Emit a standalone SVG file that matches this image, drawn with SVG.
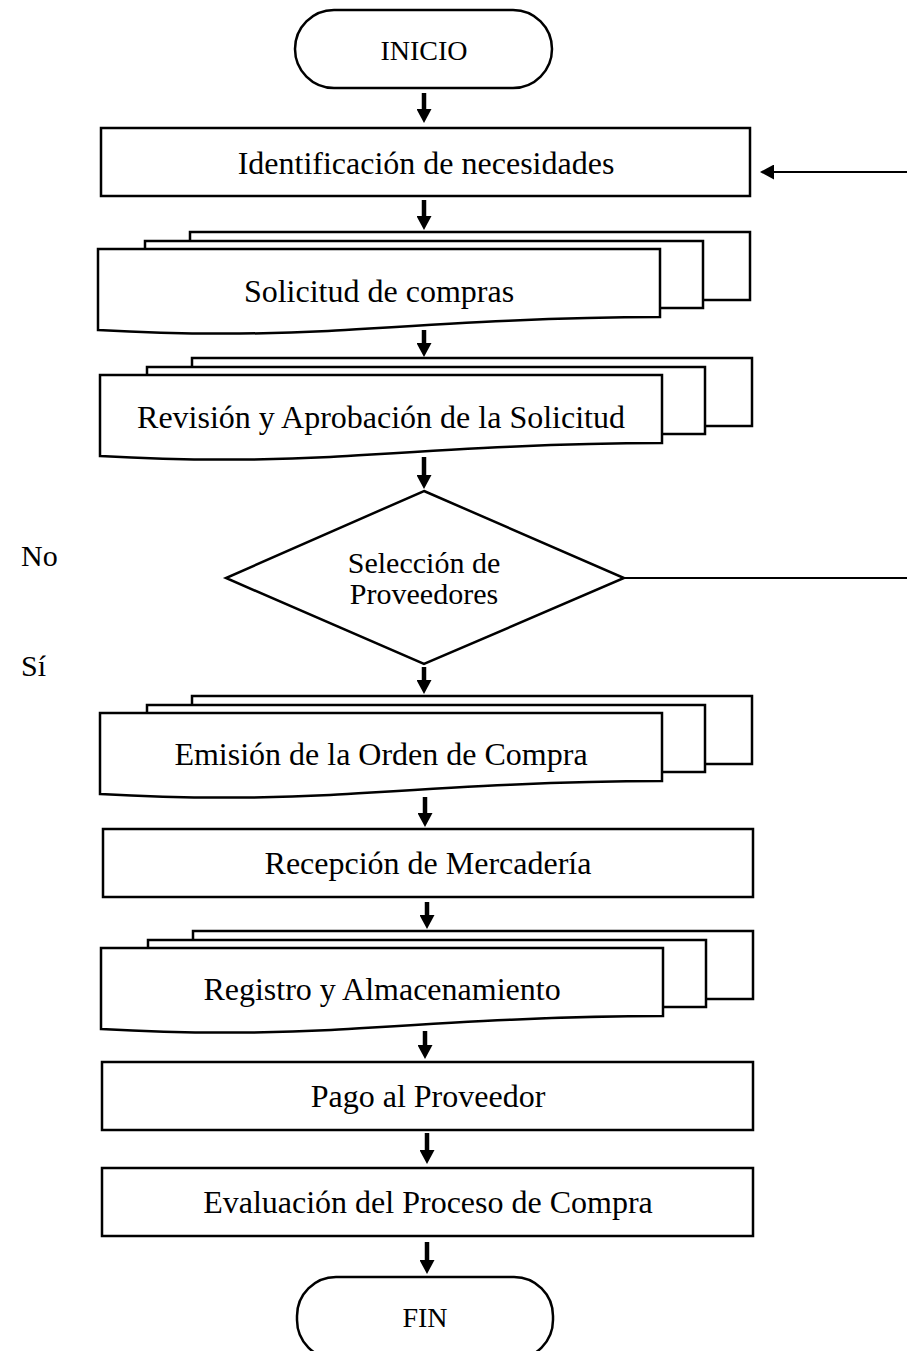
<svg xmlns="http://www.w3.org/2000/svg" xmlns:xlink="http://www.w3.org/1999/xlink" width="907" height="1351" viewBox="0 0 907 1351">
<style>
.shape{fill:#fff;stroke:#000;stroke-width:2.5;stroke-linejoin:miter}
.lbl{font-family:"Liberation Serif","Times New Roman",serif;font-size:32px;fill:#000;text-anchor:middle}
.small{font-size:28px}
.dia{font-size:30px}
.side{font-family:"Liberation Serif","Times New Roman",serif;font-size:30px;fill:#000}
.arr{stroke:#000;stroke-width:4.5;fill:none;marker-end:url(#head)}
.thin{stroke:#000;stroke-width:2;fill:none}
</style>
<defs>
<marker id="head" markerUnits="userSpaceOnUse" viewBox="0 0 14 15" markerWidth="14" markerHeight="15" refX="2" refY="7.5" orient="auto">
<path d="M0,0 L14,7.5 L0,15 Z" fill="#000"/>
</marker>
<g id="multidoc">
<rect x="92" y="-17" width="560" height="68" class="shape"/>
<rect x="47" y="-8" width="558" height="67" class="shape"/>
<path d="M0,0 H562 V68 C440,68 330,76 230,82 C150,86 70,85 0,81 Z" class="shape"/>
</g>
</defs>

<g id="connectors">
<line class="arr" x1="424" y1="93" x2="424" y2="111"/>
<line class="arr" x1="424" y1="200" x2="424" y2="218"/>
<line class="arr" x1="424" y1="330" x2="424" y2="345"/>
<line class="arr" x1="424" y1="457" x2="424" y2="477"/>
<line class="arr" x1="424" y1="667" x2="424" y2="682"/>
<line class="arr" x1="425" y1="797" x2="425" y2="815"/>
<line class="arr" x1="427" y1="902" x2="427" y2="917"/>
<line class="arr" x1="425" y1="1031" x2="425" y2="1047"/>
<line class="arr" x1="427" y1="1133" x2="427" y2="1152"/>
<line class="arr" x1="427" y1="1242" x2="427" y2="1262"/>
<line class="thin" x1="907" y1="172" x2="772" y2="172" marker-end="url(#head)"/>
<line class="thin" x1="624" y1="578" x2="907" y2="578"/>
</g>

<g id="inicio">
<rect class="shape" x="295" y="10" width="257" height="78" rx="39" ry="39"/>
<text class="lbl small" x="424" y="60">INICIO</text>
</g>

<g id="identificacion">
<rect class="shape" x="101" y="128" width="649" height="68"/>
<text class="lbl" x="426" y="174">Identificación de necesidades</text>
</g>

<g id="solicitud">
<use xlink:href="#multidoc" href="#multidoc" x="98" y="249"/>
<text class="lbl" x="379" y="302">Solicitud de compras</text>
</g>

<g id="revision">
<use xlink:href="#multidoc" href="#multidoc" x="100" y="375"/>
<text class="lbl" x="381" y="428">Revisión y Aprobación de la Solicitud</text>
</g>

<g id="seleccion">
<polygon class="shape" points="424,491 624,578 424,664 226,578"/>
<text class="lbl dia" x="424" y="573">Selección de</text>
<text class="lbl dia" x="424" y="604">Proveedores</text>
</g>

<g id="labels">
<text class="side" x="21" y="566">No</text>
<text class="side" x="21" y="676">Sí</text>
</g>

<g id="emision">
<use xlink:href="#multidoc" href="#multidoc" x="100" y="713"/>
<text class="lbl" x="381" y="765">Emisión de la Orden de Compra</text>
</g>

<g id="recepcion">
<rect class="shape" x="103" y="829" width="650" height="68"/>
<text class="lbl" x="428" y="874">Recepción de Mercadería</text>
</g>

<g id="registro">
<use xlink:href="#multidoc" href="#multidoc" x="101" y="948"/>
<text class="lbl" x="382" y="1000">Registro y Almacenamiento</text>
</g>

<g id="pago">
<rect class="shape" x="102" y="1062" width="651" height="68"/>
<text class="lbl" x="428" y="1107">Pago al Proveedor</text>
</g>

<g id="evaluacion">
<rect class="shape" x="102" y="1168" width="651" height="68"/>
<text class="lbl" x="428" y="1213">Evaluación del Proceso de Compra</text>
</g>

<g id="fin">
<rect class="shape" x="297" y="1277" width="256" height="82" rx="39" ry="39"/>
<text class="lbl small" x="425" y="1327">FIN</text>
</g>
</svg>
